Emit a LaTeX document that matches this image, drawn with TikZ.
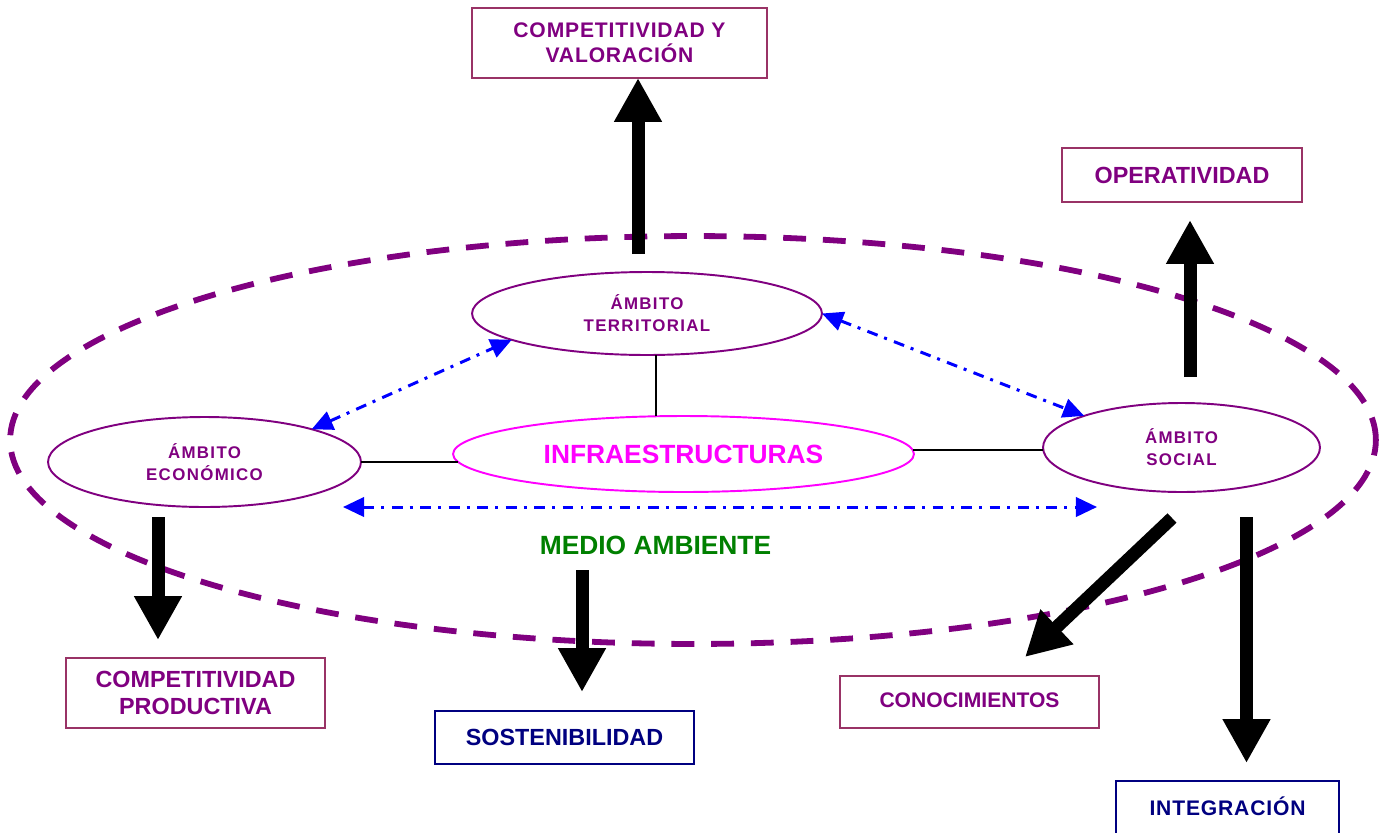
\documentclass[tikz,border=0pt]{standalone}
\usepackage{fontspec}
\setmainfont{Liberation Sans}
\newfontfamily\spacedfont[LetterSpace=8]{Liberation Sans}
\newfontfamily\spacedlfont[LetterSpace=4]{Liberation Sans}
\usetikzlibrary{arrows.meta,shapes.geometric}
\definecolor{ppl}{HTML}{800080}
\definecolor{mauve}{HTML}{993366}
\definecolor{navyc}{HTML}{000080}
\definecolor{magc}{HTML}{FF00FF}
\definecolor{grn}{HTML}{008000}
\definecolor{blu}{HTML}{0000FF}
\begin{document}
\begin{tikzpicture}[x=0.02cm,y=-0.02cm,
  box/.style={draw=mauve, line width=1.1pt, text=ppl, align=center, inner sep=0pt, outer sep=0pt},
  navybox/.style={box, draw=navyc, text=navyc},
  amb/.style={ellipse, draw=ppl, line width=1.1pt, text=ppl, align=center, inner sep=0pt, outer sep=0pt,
    font=\spacedfont\bfseries\fontsize{9.6}{12.5}\selectfont},
  bigarrow/.style={line width=0.26cm, -{Triangle[width=0.9cm,length=0.88cm]}},
  blinks/.style={blu, line width=1.7pt, dash pattern=on 6.2pt off 4pt on 1.7pt off 4.3pt,
    {Triangle[length=12pt,width=11pt]}-{Triangle[length=12pt,width=11pt]}},
  thinlink/.style={black, line width=1pt}
]
\useasboundingbox (0,0) rectangle (1388,832);
\fill[white] (0,0) rectangle (1388,832);

% big dashed ellipse
\draw[ppl, line width=3.3pt, dash pattern=on 13pt off 9.6pt] (693,440) ellipse [x radius=13.66cm, y radius=4.08cm];

% boxes
\node[box, minimum width=5.9cm, minimum height=1.4cm, font=\spacedlfont\bfseries\fontsize{12}{14.2}\selectfont] (cv) at (619.5,43) {COMPETITIVIDAD Y\\VALORACIÓN};
\node[box, minimum width=4.8cm, minimum height=1.08cm, font=\bfseries\fontsize{13.3}{15}\selectfont] (op) at (1182,175) {OPERATIVIDAD};
\node[box, minimum width=5.18cm, minimum height=1.4cm, font=\bfseries\fontsize{13.3}{15.3}\selectfont] (cp) at (195.5,693) {COMPETITIVIDAD\\PRODUCTIVA};
\node[navybox, minimum width=5.18cm, minimum height=1.06cm, font=\bfseries\fontsize{13.3}{15}\selectfont] (so) at (564.5,737.5) {SOSTENIBILIDAD};
\node[box, minimum width=5.18cm, minimum height=1.04cm, font=\bfseries\fontsize{12}{14}\selectfont] (co) at (969.5,702) {\raisebox{0.07cm}{CONOCIMIENTOS}};
\node[navybox, minimum width=4.46cm, minimum height=1.08cm, font=\spacedlfont\bfseries\fontsize{12}{14}\selectfont] (in) at (1227.5,808) {\raisebox{0.07cm}{INTEGRACIÓN}};

% ellipses
\node[amb, minimum width=7cm, minimum height=1.66cm] (terr) at (647,313.5) {ÁMBITO\\TERRITORIAL};
\node[amb, minimum width=6.26cm, minimum height=1.8cm] (eco) at (204.5,462) {ÁMBITO\\ECONÓMICO};
\node[amb, minimum width=5.54cm, minimum height=1.78cm] (soc) at (1181.5,447.5) {ÁMBITO\\SOCIAL};
\node[ellipse, draw=magc, line width=1.1pt, text=magc, inner sep=0pt, outer sep=0pt,
  minimum width=9.22cm, minimum height=1.52cm, font=\bfseries\fontsize{15}{18}\selectfont] (infra) at (683.5,454) {INFRAESTRUCTURAS};

\node[text=grn, font=\bfseries\fontsize{15}{18}\selectfont, inner sep=0pt] (ma) at (655.5,545) {MEDIO AMBIENTE};

% thin black connectors
\draw[thinlink] (infra.126.1) -- (infra.126.1 |- terr.south);
\draw[thinlink] (infra.182.6) -- (infra.182.6 -| eco.east);
\draw[thinlink] (infra.1.8) -- (infra.1.8 -| soc.west);

% blue dash-dot double arrows
\draw[blinks] (eco.17) -- (terr.191);
\draw[blinks] (terr.east) -- (soc.162.6);
\coordinate (mal) at (343,507);
\coordinate (mar) at (1097,507);
\draw[blinks] (mal) -- (mar);

% big black arrows
\coordinate (a1) at (638,254);
\draw[bigarrow] (a1) -- (a1 |- cv.south);
\coordinate (a2s) at (1190,377);
\coordinate (a2e) at (1190,220);
\draw[bigarrow] (a2s) -- (a2e);
\coordinate (a3s) at (158,517);
\coordinate (a3e) at (158,640);
\draw[bigarrow] (a3s) -- (a3e);
\coordinate (a4s) at (582,570);
\coordinate (a4e) at (582,692);
\draw[bigarrow] (a4s) -- (a4e);
\coordinate (a5s) at (1172,518);
\coordinate (a5e) at (1025,657);
\draw[bigarrow] (a5s) -- (a5e);
\coordinate (a6s) at (1246.5,517);
\coordinate (a6e) at (1246.5,763);
\draw[bigarrow] (a6s) -- (a6e);
\end{tikzpicture}
\end{document}
